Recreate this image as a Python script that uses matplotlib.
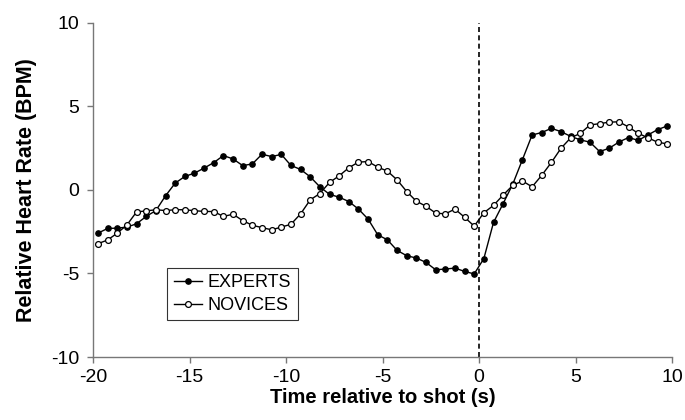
import numpy as np
import matplotlib.pyplot as plt

plt.rcParams['font.family'] = ['Liberation Sans', 'DejaVu Sans']

# Time points (s), every 0.5 s
time_s = np.arange(-19.75, 10.0, 0.5)

experts = [-2.59, -2.31, -2.29, -2.23, -2.03, -1.59, -1.24, -0.36, 0.40, 0.80,
           1.00, 1.30, 1.63, 2.05, 1.85, 1.45, 1.55, 2.13, 1.99, 2.12,
           1.46, 1.22, 0.78, 0.18, -0.27, -0.44, -0.70, -1.15, -1.75, -2.69,
           -2.99, -3.62, -3.94, -4.08, -4.34, -4.78, -4.74, -4.68, -4.88, -5.03,
           -4.11, -1.95, -0.82, 0.35, 1.81, 3.28, 3.43, 3.68, 3.48, 3.20,
           2.99, 2.85, 2.29, 2.49, 2.86, 3.13, 2.96, 3.28, 3.60, 3.82]

novices = [-3.22, -3.00, -2.59, -2.10, -1.32, -1.26, -1.19, -1.24, -1.19, -1.19,
           -1.25, -1.29, -1.30, -1.59, -1.46, -1.84, -2.12, -2.26, -2.39, -2.23,
           -2.06, -1.44, -0.60, -0.22, 0.44, 0.84, 1.32, 1.66, 1.69, 1.36,
           1.12, 0.60, -0.10, -0.68, -0.98, -1.39, -1.44, -1.15, -1.64, -2.17,
           -1.37, -0.93, -0.31, 0.27, 0.53, 0.18, 0.87, 1.64, 2.49, 3.11,
           3.38, 3.88, 3.96, 4.05, 4.07, 3.76, 3.38, 3.12, 2.85, 2.75]

xticks = [-20, -15, -10, -5, 0, 5, 10]
yticks = [-10, -5, 0, 5, 10]

fig = plt.figure(figsize=(6.85, 4.2), dpi=100)
ax = fig.add_axes([0.136, 0.15, 0.845, 0.796])

ax.plot(time_s, experts, color='black', lw=1.0, marker='o', ms=3.8,
        mfc='black', mec='black', label='EXPERTS', zorder=3)
ax.plot(time_s, novices, color='black', lw=1.0, marker='o', ms=4.2,
        mfc='white', mec='black', mew=0.9, label='NOVICES', zorder=3)
ax.axvline(0, color='black', lw=1.2, ls=(0, (3, 2)), zorder=2)

ax.set_xlim(-20, 10)
ax.set_ylim(-10, 10)
ax.set_xticks(xticks)
ax.set_yticks(yticks)
ax.set_xticklabels([str(t) for t in xticks])
ax.set_yticklabels([str(t) for t in yticks])

for side in ['top', 'right']:
    ax.spines[side].set_visible(False)
for side in ['left', 'bottom']:
    ax.spines[side].set_color('#777777')
    ax.spines[side].set_linewidth(1.0)
ax.tick_params(direction='out', length=4, width=1, color='#777777',
               labelsize=14, pad=6)
ax.tick_params(axis='x', pad=5)

ax.set_xlabel('Time relative to shot (s)', fontsize=14.5, fontweight='bold',
              labelpad=1)
ax.set_ylabel('Relative Heart Rate (BPM)', fontsize=15.5, fontweight='bold',
              labelpad=10)

leg = ax.legend(loc='lower left', bbox_to_anchor=(0.128, 0.11), fontsize=13,
                frameon=True, fancybox=False, handlelength=1.6,
                handletextpad=0.3, borderpad=0.35, labelspacing=0.3,
                borderaxespad=0)
leg.get_frame().set_edgecolor('black')
leg.get_frame().set_linewidth(0.8)

fig.savefig('out.png', dpi=100)
